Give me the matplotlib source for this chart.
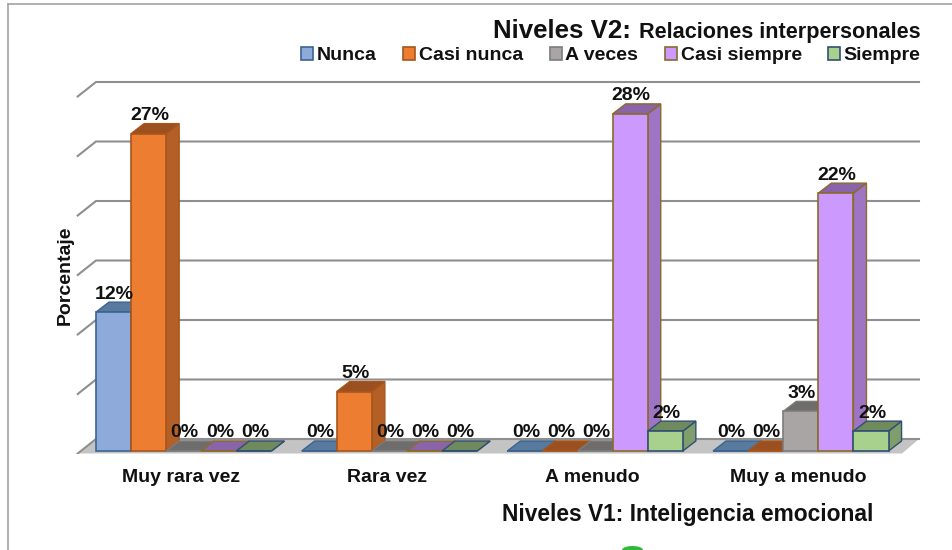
import numpy as np
import matplotlib
matplotlib.use('Agg')
import matplotlib.pyplot as plt
from matplotlib.lines import Line2D
from matplotlib.patches import Ellipse, Patch, Polygon

plt.rcParams['font.family'] = ['Liberation Sans', 'DejaVu Sans']

categories = ['Muy rara vez', 'Rara vez', 'A menudo', 'Muy a menudo']
series_names = ['Nunca', 'Casi nunca', 'A veces', 'Casi siempre', 'Siempre']
nunca = [11.67, 0, 0, 0]
casi_nunca = [26.67, 5.0, 0, 0]
a_veces = [0, 0, 0, 3.33]
casi_siempre = [0, 0, 28.33, 21.67]
siempre = [0, 0, 1.67, 1.67]
series_values = [nunca, casi_nunca, a_veces, casi_siempre, siempre]
grid_levels = [0, 5, 10, 15, 20, 25, 30]

front_colors = ['#8eaadb', '#ed7d31', '#a9a5a5', '#cc99ff', '#a9d18e']
side_colors = ['#6f88b0', '#b45f25', '#858282', '#9e75c4', '#7f9e6b']
top_colors = ['#587a9f', '#9c5020', '#6f6c6c', '#8a64a8', '#6f8a5c']
edge_colors = ['#3a6491', '#a5551d', '#7d7b7b', '#8b6a2b', '#2f4f75']

W, H = 952, 550
# one category = 205.7 px, one percent = 11.9 px
PX_X = 205.7
PX_Y = 11.9
X0 = 183.7
Y0 = 451.0
BAR_W = 35.1 / PX_X
DEPTH_X = 13 / PX_X
DEPTH_Y = 10 / PX_Y
BACK_Y = 12 / PX_Y
FRONT_Y = -2.5 / PX_Y
GRID_LEFT = (77.7 - X0) / PX_X
BACK_LEFT = (96 - X0) / PX_X
BACK_RIGHT = (919 - X0) / PX_X
FLOOR_RIGHT = (902 - X0) / PX_X

fig = plt.figure(figsize=(W / 100, H / 100), dpi=100)
ax_l, ax_r, ax_t, ax_b = 70, 925, 70, 454
ax = fig.add_axes([ax_l / W, 1 - ax_b / H, (ax_r - ax_l) / W, (ax_b - ax_t) / H])
ax.set_xlim((ax_l - X0) / PX_X, (ax_r - X0) / PX_X)
ax.set_ylim((Y0 - ax_b) / PX_Y, (Y0 - ax_t) / PX_Y)
ax.patch.set_alpha(0)
for sp in ax.spines.values():
    sp.set_visible(False)

# floor and back grid
ax.add_patch(Polygon([(GRID_LEFT, FRONT_Y), (BACK_LEFT, BACK_Y), (BACK_RIGHT, BACK_Y), (FLOOR_RIGHT, FRONT_Y)],
                     closed=True, facecolor='#c4c4c4', edgecolor='none', zorder=1))
for level in grid_levels:
    ax.plot([GRID_LEFT, BACK_LEFT, BACK_RIGHT], [level + FRONT_Y, level + BACK_Y, level + BACK_Y],
            color='#8f8f8f', lw=1.5, solid_joinstyle='miter', zorder=2)

positions = np.arange(len(categories))
for s, values in enumerate(series_values):
    z = 3 + s * 3
    for i, v in enumerate(values):
        left = positions[i] + (s - 2.5) * BAR_W
        right = left + BAR_W
        ax.add_patch(Polygon([(right, 0), (right + DEPTH_X, DEPTH_Y), (right + DEPTH_X, v + DEPTH_Y), (right, v)],
                             closed=True, facecolor=side_colors[s], edgecolor=edge_colors[s], lw=1.0, zorder=z))
        ax.add_patch(Polygon([(left, v), (left + DEPTH_X, v + DEPTH_Y), (right + DEPTH_X, v + DEPTH_Y), (right, v)],
                             closed=True, facecolor=top_colors[s], edgecolor=edge_colors[s], lw=1.0, zorder=z + 1))
    ax.bar(positions + (s - 2) * BAR_W, values, BAR_W, color=front_colors[s], edgecolor=edge_colors[s],
           lw=1.2, zorder=z + 2)

# data labels on top of everything
for s, values in enumerate(series_values):
    for i, v in enumerate(values):
        ax.text(positions[i] + (s - 2) * BAR_W + 0.005, v + DEPTH_Y + 0.3, f'{v:.0f}%', ha='center', va='baseline',
                fontsize=14, fontweight='bold', color='#111111', zorder=30)

ax.set_yticks([])
ax.set_xticks(positions - 0.013)
ax.set_xticklabels(categories, fontsize=14, fontweight='bold', color='#111111')
ax.tick_params(axis='x', length=0, pad=11)

ax.set_xlabel('Niveles V1: Inteligencia emocional', fontsize=16.4, fontweight='bold', color='#111111')
ax.xaxis.set_label_coords((688 - ax_l) / (ax_r - ax_l), (ax_b - 514) / (ax_b - ax_t), transform=ax.transAxes)
ax.xaxis.label.set_verticalalignment('center')
ax.set_ylabel('Porcentaje', fontsize=14, fontweight='bold', color='#111111')
ax.yaxis.set_label_coords((65 - ax_l) / (ax_r - ax_l), (ax_b - 275) / (ax_b - ax_t), transform=ax.transAxes)
ax.yaxis.label.set_verticalalignment('center')

# title in two sizes
fig.text(492.5 / W, 1 - 38 / H, 'Niveles V2:', fontsize=18.6, fontweight='bold', color='#111111', va='baseline')
fig.text(639 / W, 1 - 38 / H, 'Relaciones interpersonales', fontsize=15.6, fontweight='bold', color='#111111', va='baseline')

handles = [Patch(facecolor=front_colors[s], edgecolor=edge_colors[s], lw=1.2) for s in range(5)]
fig.legend(handles, series_names, ncol=5, loc='center left', bbox_to_anchor=(301 / W, 1 - 55.5 / H),
           frameon=False, prop={'weight': 'bold', 'size': 14}, handlelength=0.62, handleheight=0.62,
           handletextpad=0.2, columnspacing=1.35, borderpad=0, borderaxespad=0, labelcolor='#111111')

# picture frame and the green scrap at the bottom edge
frame = '#a3a3a3'
fig.add_artist(Line2D([7.5 / W, 7.5 / W], [0, 1 - 4 / H], color=frame, lw=1.2))
fig.add_artist(Line2D([7.5 / W, 1], [1 - 4 / H, 1 - 4 / H], color=frame, lw=1.2))
fig.add_artist(Ellipse((632.5 / W, 0), 21 / W, 8 / H, transform=fig.transFigure, facecolor='#2fb83a', edgecolor='none'))

fig.savefig('out.png', dpi=100)
